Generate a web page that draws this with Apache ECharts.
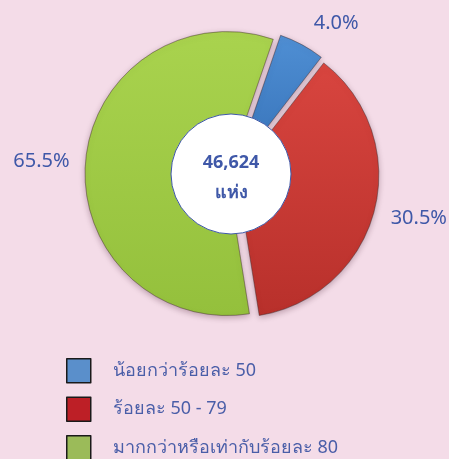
<!DOCTYPE html>
<html>
<head>
<meta charset="utf-8">
<script src="https://cdn.jsdelivr.net/npm/echarts@6/dist/echarts.min.js"></script>
<style>
  html, body { margin: 0; padding: 0; background: #f4dce8; }
  #main { width: 449px; height: 459px; }
</style>
</head>
<body>
<div id="main"></div>
<script>
// categories (legend order)
var categories = ['น้อยกว่าร้อยละ 50', 'ร้อยละ 50 - 79', 'มากกว่าหรือเท่ากับร้อยละ 80'];
// slice sizes as drawn in the picture (share of the circle)
var sliceValues = [5.2, 37.0, 57.8];
// percentage labels printed beside the slices
var percentLabels = ['4.0%', '30.5%', '65.5%'];
// total shown in the middle
var totalCount = 46624;
var totalUnit = 'แห่ง';

var pieColors = [
    ['#4f8fd4', '#3570b6'],
    ['#d8453f', '#b8302b'],
    ['#a9d34e', '#94c03c']
];
var legendColors = ['#5a8fcb', '#bd1f26', '#9bbb59'];
var textBlue = '#3f58a8';
// small label nudges so they sit like the original
var labelNudge = [[-5, 1], [-13, 2], [14, 2]];

var chart = echarts.init(document.getElementById('main'));

var pieData = categories.map(function(name, i){
    return {
        name: name,
        value: sliceValues[i],
        selected: true,
        itemStyle: {
            color: new echarts.graphic.LinearGradient(0, 0, 0, 1, [
                {offset: 0, color: pieColors[i][0]},
                {offset: 1, color: pieColors[i][1]}
            ])
        }
    };
});

var option = {
    backgroundColor: '#f4dce8',
    legend: {
        orient: 'vertical',
        left: 66,
        top: 358,
        height: 120,
        padding: 0,
        itemWidth: 24,
        itemHeight: 24,
        itemGap: 13,
        icon: 'rect',
        selectedMode: false,
        data: categories.map(function(name, i){
            return {
                name: name,
                itemStyle: {color: legendColors[i], borderColor: '#1a1a1a', borderWidth: 1.5}
            };
        }),
        textStyle: {
            color: '#4a5ea8',
            fontSize: 18,
            fontFamily: 'Noto Sans, DejaVu Sans, sans-serif',
            padding: [0, 0, 0, 17]
        }
    },
    series: [{
        type: 'pie',
        z: 2,
        center: [232, 174],
        radius: [0, 142],
        startAngle: 71,
        selectedMode: 'multiple',
        selectedOffset: 5,
        silent: true,
        data: pieData,
        itemStyle: {
            borderColor: 'rgba(60,40,40,0.25)',
            borderWidth: 1,
            shadowColor: 'rgba(80,40,60,0.35)',
            shadowBlur: 6,
            shadowOffsetY: 2
        },
        select: {itemStyle: {borderColor: 'rgba(60,40,40,0.25)', borderWidth: 1}},
        label: {
            position: 'outside',
            color: textBlue,
            fontSize: 20,
            overflow: 'none',
            fontFamily: 'Noto Sans, DejaVu Sans, sans-serif',
            formatter: function(p){ return percentLabels[p.dataIndex]; }
        },
        labelLine: {show: false, length: 25, length2: 0},
        labelLayout: function(p){
            return {dx: labelNudge[p.dataIndex][0], dy: labelNudge[p.dataIndex][1]};
        }
    }, {
        type: 'pie',
        z: 10,
        center: [231, 174],
        radius: [0, 60],
        silent: true,
        data: [{value: totalCount, name: 'รวม'}],
        itemStyle: {color: '#ffffff', borderColor: '#3f58a8', borderWidth: 1},
        label: {
            position: 'center',
            offset: [0, 4],
            color: textBlue,
            fontSize: 18,
            fontWeight: 'bold',
            lineHeight: 30,
            fontFamily: 'Noto Sans, DejaVu Sans, sans-serif',
            formatter: function(p){ return p.value.toLocaleString('en-US') + '\n' + totalUnit; }
        },
        labelLine: {show: false}
    }]
};

chart.setOption(option);
</script>
</body>
</html>
